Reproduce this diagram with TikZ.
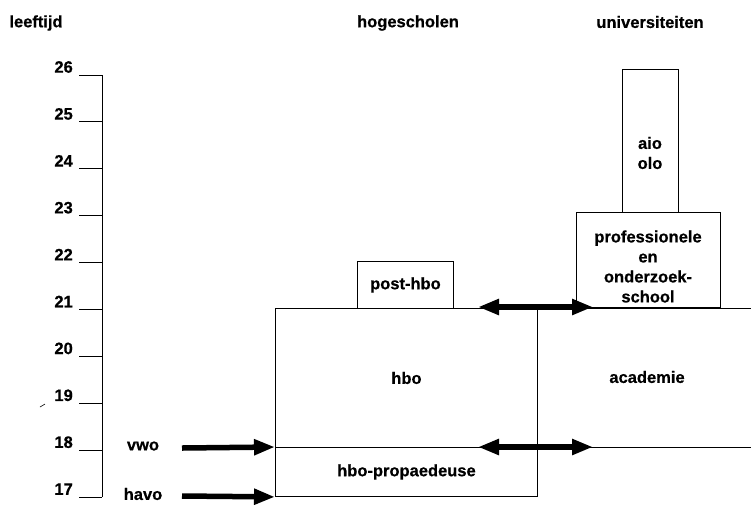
\documentclass[tikz,border=0pt]{standalone}
\usepackage{fontspec}
\setmainfont{Liberation Sans}[BoldFeatures={FakeBold=0.6}]
\usetikzlibrary{arrows.meta}
\begin{document}
\begin{tikzpicture}[x=1pt,y=-1pt,
  every node/.style={font=\fontsize{16.5}{20}\selectfont\bfseries, inner sep=0pt},
  box/.style={draw, line width=0.9pt, inner sep=0pt, anchor=north west},
  thin/.style={line width=0.9pt},
  bigarrow/.style={line width=5.5pt, -{Triangle[length=21pt,width=15pt]}},
  dblarrow/.style={line width=5.5pt, {Triangle[length=21pt,width=15pt]}-{Triangle[length=21pt,width=15pt]}}]
\useasboundingbox (0,0) rectangle (751,504);
% headings
\node (leeftijd) at (36,23) {leeftijd};
\node (hogescholen) at (408,23) {hogescholen};
\node (universiteiten) at (650,22) {universiteiten};
% axis
\draw[thin] (102,75) -- (102,497);
\foreach \a [count=\i from 0] in {26,25,24,23,22,21,20,19,18,17}{
  \pgfmathsetmacro\yy{75+\i*46.9}
  \draw[thin] (79,\yy) -- (102,\yy);
  \node[anchor=east] (age\a) at (73,\yy-8) {\a};
}
\draw[line width=0.6pt] (40,407) -- (45,404);
% boxes
\node[box, minimum width=262pt, minimum height=139pt] (hbo) at (275,308) {};
\node at (hbo.center) {hbo};
\node[box, minimum width=262pt, minimum height=49pt] (prop) at (275,447) {};
\node at (prop.center) {hbo-propaedeuse};
\node[box, minimum width=240pt, minimum height=139pt] (acad) at (537,308) {};
\node at (647,377) {academie};
\node[box, minimum width=96pt, minimum height=47pt] (posthbo) at (357,261) {};
\node at (posthbo.center) {post-hbo};
\node[box, minimum width=144pt, minimum height=95pt] (prof) at (576,212) {};
\node[align=center] at (648,266.5) {professionele\\en\\onderzoek-\\school};
\node[box, minimum width=56pt, minimum height=143pt] (aio) at (622,69) {};
\node[align=center] at (650,153) {aio\\olo};
% entry labels and arrows
\node (vwo) at (143,446) {vwo};
\node (havo) at (143,494) {havo};
\coordinate (vwostart) at (182,448);
\coordinate (havostart) at (182,496);
\draw[bigarrow] (vwostart) -- (prop.north west);
\draw[bigarrow] (havostart) -- (prop.south west);
% double arrows
\coordinate (a1l) at (478,307);
\coordinate (a1r) at (593,307);
\coordinate (a2l) at (478,447);
\coordinate (a2r) at (593,447);
\draw[dblarrow] (a1l) -- (a1r);
\draw[dblarrow] (a2l) -- (a2r);
\end{tikzpicture}
\end{document}
